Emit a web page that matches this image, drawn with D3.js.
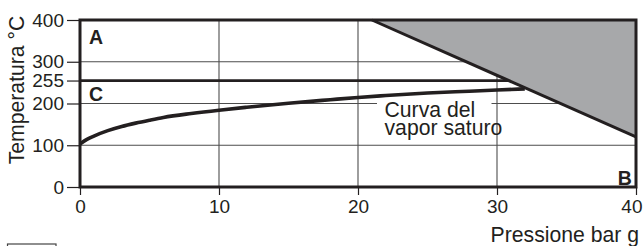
<!DOCTYPE html>
<html><head><meta charset="utf-8">
<script src="https://cdn.jsdelivr.net/npm/d3@7"></script>
<style>
html,body{margin:0;padding:0;background:#fff;}
svg{display:block;font-family:Arial,"Liberation Sans",Helvetica,sans-serif;}
</style></head>
<body><svg id="c" width="643" height="246"></svg>
<script>
// Data
const xTicks = [0, 10, 20, 30, 40];
const yTicks = [0, 100, 200, 255, 300, 400];
const yGrid = [100, 200, 300];
const xGrid = [10, 20, 30];
const pressure = [0, 0.5, 1, 2, 3, 4, 5, 6, 8, 10, 12, 15, 18, 20, 22, 25, 28, 30, 32];
const saturationTemp = [103, 114, 122, 135, 145, 153, 160, 166.5, 176, 184, 191, 200.5, 209, 214.5, 219, 225, 229.5, 232.5, 235];
const limitPressure = [21, 40, 40];
const limitTemp = [400, 400, 120];
const limitTempLine = 255;
const zoneLabels = [{t:"A", p:0.65, v:375}, {t:"C", p:0.65, v:240}, {t:"B", p:39.7, v:5}];
const curveLabel = ["Curva del", "vapor saturo"];
const yTitle = "Temperatura °C";
const xTitle = "Pressione bar g";

const svg = d3.select("#c");
const x = d3.scaleLinear().domain([0, 40]).range([80, 636]);
const y = d3.scaleLinear().domain([0, 400]).range([187, 20]);
const ink = "#231f20";
const gridCol = "#4d4d4d";

// grid
svg.append("g").selectAll("line").data(yGrid).join("line")
  .attr("x1", x(0)).attr("x2", x(40)).attr("y1", d => y(d)).attr("y2", d => y(d))
  .attr("stroke", gridCol).attr("stroke-width", 1.1);
svg.append("g").selectAll("line").data(xGrid).join("line")
  .attr("x1", d => x(d)).attr("x2", d => x(d)).attr("y1", y(0)).attr("y2", y(400))
  .attr("stroke", gridCol).attr("stroke-width", 1.1);

// 255 line
svg.append("line").attr("x1", x(0)).attr("x2", x(40))
  .attr("y1", y(limitTempLine)).attr("y2", y(limitTempLine))
  .attr("stroke", ink).attr("stroke-width", 2.8);

// saturation curve
const pts = pressure.map((p, i) => [p, saturationTemp[i]]);
svg.append("path").datum(pts)
  .attr("d", d3.line().x(d => x(d[0])).y(d => y(d[1])).curve(d3.curveMonotoneX))
  .attr("fill", "none").attr("stroke", ink).attr("stroke-width", 3.6).attr("stroke-linecap", "butt");

// label with white background
const lab = svg.append("g");
const bg = lab.append("rect").attr("fill", "#fff");
const lt = lab.append("text").attr("font-size", 21.2).attr("fill", ink);
lt.selectAll("tspan").data(curveLabel).join("tspan")
  .attr("x", 384.5).attr("y", (d, i) => 116.5 + i * 18.6).text(d => d);
bg.attr("x", 377).attr("y", 98).attr("width", 114.5).attr("height", 42);

// shaded area
const limPts = limitPressure.map((p, i) => [p, limitTemp[i]]);
svg.append("path").datum(limPts)
  .attr("d", d3.line().x(d => x(d[0])).y(d => y(d[1])))
  .attr("fill", "#a7a8aa").attr("stroke", "none");
svg.append("line").attr("x1", x(limitPressure[0])).attr("y1", y(limitTemp[0]))
  .attr("x2", x(limitPressure[2])).attr("y2", y(limitTemp[2]))
  .attr("stroke", ink).attr("stroke-width", 3);

// frame
svg.append("rect").attr("x", x(0)).attr("y", y(400)).attr("width", x(40) - x(0)).attr("height", y(0) - y(400))
  .attr("fill", "none").attr("stroke", ink).attr("stroke-width", 3);

// axes
const ya = svg.append("g").attr("transform", `translate(${x(0)},0)`)
  .call(d3.axisLeft(y).tickValues(yTicks).tickSize(13).tickPadding(3).tickFormat(d3.format("d")));
ya.select(".domain").remove();
ya.selectAll("line").attr("stroke", ink).attr("stroke-width", 1.2);
ya.selectAll("text").attr("font-size", 19).attr("fill", ink).attr("font-family", "Arial, Liberation Sans, sans-serif");

const xa = svg.append("g").attr("transform", `translate(0,${y(0)})`)
  .call(d3.axisBottom(x).tickValues(xTicks).tickSize(8).tickPadding(5).tickFormat(d3.format("d")));
xa.select(".domain").remove();
xa.selectAll("line").attr("stroke", ink).attr("stroke-width", 1.2);
xa.selectAll("text").attr("font-size", 19).attr("fill", ink).attr("font-family", "Arial, Liberation Sans, sans-serif");
// keep last tick label inside the frame, as in the reference
xa.selectAll(".tick").filter(d => d === 40).select("text")
  .attr("text-anchor", "end").attr("x", 642 - x(40));

// zone labels
svg.append("g").selectAll("text").data(zoneLabels).join("text")
  .attr("x", d => x(d.p)).attr("y", d => y(d.v))
  .attr("text-anchor", d => d.t === "B" ? "end" : "start")
  .attr("dy", d => d.t === "B" ? 0 : "0.72em")
  .attr("font-size", 19.5).attr("font-weight", "bold").attr("fill", ink).text(d => d.t);

// titles
svg.append("text").attr("transform", "translate(23.5,90) rotate(-90)")
  .attr("text-anchor", "middle").attr("font-size", 21.2).attr("fill", ink).text(yTitle);
svg.append("text").attr("x", 639).attr("y", 242).attr("text-anchor", "end")
  .attr("font-size", 21.2).attr("fill", ink).text(xTitle);

// cropped box at bottom-left
svg.append("rect").attr("x", 7.5).attr("y", 244).attr("width", 48.5).attr("height", 10)
  .attr("fill", "none").attr("stroke", "#444").attr("stroke-width", 1.2);
</script></body></html>
